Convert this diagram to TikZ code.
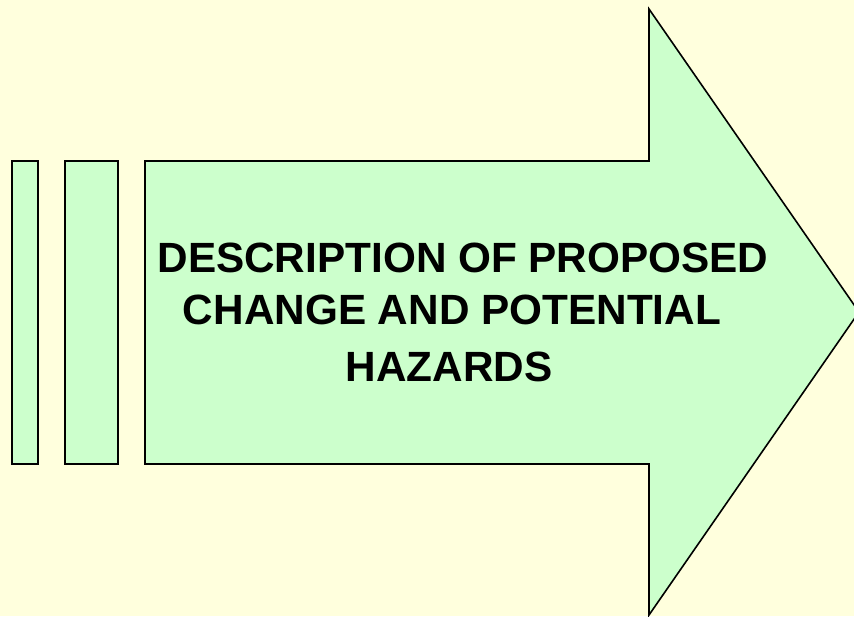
\documentclass[tikz,border=0pt]{standalone}
\usepackage{fontspec}
\setmainfont{Liberation Sans}
\definecolor{paleyellow}{HTML}{FFFFDD}
\definecolor{palegreen}{HTML}{CCFFCC}
\begin{document}
\begin{tikzpicture}[x=1pt,y=-1pt]
	\tikzset{bar/.style={draw=black,fill=palegreen,line width=1.6pt,line join=miter}}
	\fill[paleyellow] (0,0) rectangle (854,616);
	\useasboundingbox (0,0) rectangle (854,616);
	\clip (0,0) rectangle (854,616);
	\draw[bar] (12,161) rectangle (38,464);
	\draw[bar] (65,161) rectangle (118,464);
	\draw[bar] (145,161)--(649,161)--(649,9)--(859,312)--(649,615)--(649,464)--(145,464)--cycle;
	\node[font=\fontsize{42.3}{52}\selectfont\bfseries,align=center] (label) at (463,312)
		{DESCRIPTION OF PROPOSED\\CHANGE AND POTENTIAL\rule{22pt}{0pt}\\[5pt]HAZARDS\rule{28pt}{0pt}};
\end{tikzpicture}
\end{document}
